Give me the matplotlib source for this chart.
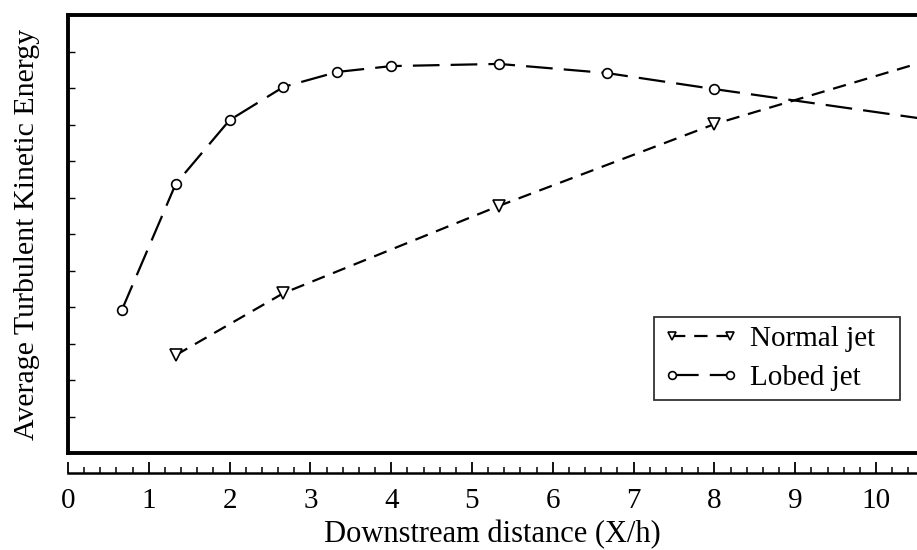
import matplotlib
matplotlib.use("Agg")
import matplotlib.pyplot as plt
from matplotlib.ticker import MultipleLocator

plt.rcParams['font.family'] = ['Liberation Serif', 'DejaVu Serif']

# Data (y in arbitrary units, axis 0..12)
lobed_x = [0.667, 1.333, 2.0, 2.667, 3.333, 4.0, 5.333, 6.667, 8.0, 10.667]
lobed_y = [3.92, 7.37, 9.12, 10.03, 10.44, 10.60, 10.66, 10.41, 9.97, 9.13]
normal_x = [1.333, 2.667, 5.333, 8.0, 10.667]
normal_y = [2.68, 4.38, 6.77, 9.01, 10.77]
xticks = [0, 1, 2, 3, 4, 5, 6, 7, 8, 9, 10]
labels = ["Normal jet", "Lobed jet"]

W, H = 917, 550
fig = plt.figure(figsize=(W / 100, H / 100), dpi=100)

x0 = 68
xmax = (W - x0) / 80.8
ax = fig.add_axes([x0 / W, 1 - 453 / H, 1 - x0 / W, (453 - 15) / H])
ax.set_xlim(0, xmax)
ax.set_ylim(0, 12)
for s in ['left', 'top', 'bottom']:
    ax.spines[s].set_linewidth(2.8)
ax.spines['right'].set_visible(False)
ax.set_xticks([])
ax.yaxis.set_major_locator(MultipleLocator(1))
ax.tick_params(axis='y', direction='in', length=5, width=1, labelleft=False)

ax.plot(normal_x, normal_y, color='black', lw=1.6, dashes=(6, 4),
        marker='v', markersize=8, markerfacecolor='white', markeredgecolor='black',
        markeredgewidth=1.2, label=labels[0])
ax.plot(lobed_x, lobed_y, color='black', lw=1.6, dashes=(12, 5),
        marker='o', markersize=7, markerfacecolor='white', markeredgecolor='black',
        markeredgewidth=1.2, label=labels[1])

bx0 = (654 - x0) / (W - x0)
bx1 = (900 - x0) / (W - x0)
by0 = (453 - 400) / (453 - 15)
leg = ax.legend(loc='lower left', bbox_to_anchor=(bx0, by0, bx1 - bx0, 0.2), mode='expand',
                numpoints=2, handlelength=2.6, fontsize=21, frameon=True, fancybox=False,
                edgecolor='black', borderpad=0.3, labelspacing=0.45, handletextpad=0.4,
                borderaxespad=0, markerscale=0.8)
leg.get_frame().set_linewidth(1.3)

ax.set_ylabel("Average Turbulent Kinetic Energy", fontsize=21.5)
ax.yaxis.set_label_coords(-28 / (W - x0), 0.5)

# separate x axis below the frame
ax2 = fig.add_axes([x0 / W, 1 - 473 / H, 1 - x0 / W, 0.001])
ax2.set_xlim(0, xmax)
ax2.set_yticks([])
for s in ['left', 'top', 'right']:
    ax2.spines[s].set_visible(False)
ax2.spines['bottom'].set_linewidth(1.8)
ax2.set_xticks(xticks)
ax2.set_xticklabels([str(t) for t in xticks])
ax2.xaxis.set_minor_locator(MultipleLocator(0.2))
ax2.tick_params(axis='x', which='major', direction='in', length=8, width=1.3, labelsize=21, pad=11)
ax2.tick_params(axis='x', which='minor', direction='in', length=4, width=1.1)
ax2.set_xlabel("Downstream distance (X/h)", fontsize=22, labelpad=4)

fig.savefig("out.png", dpi=100)
